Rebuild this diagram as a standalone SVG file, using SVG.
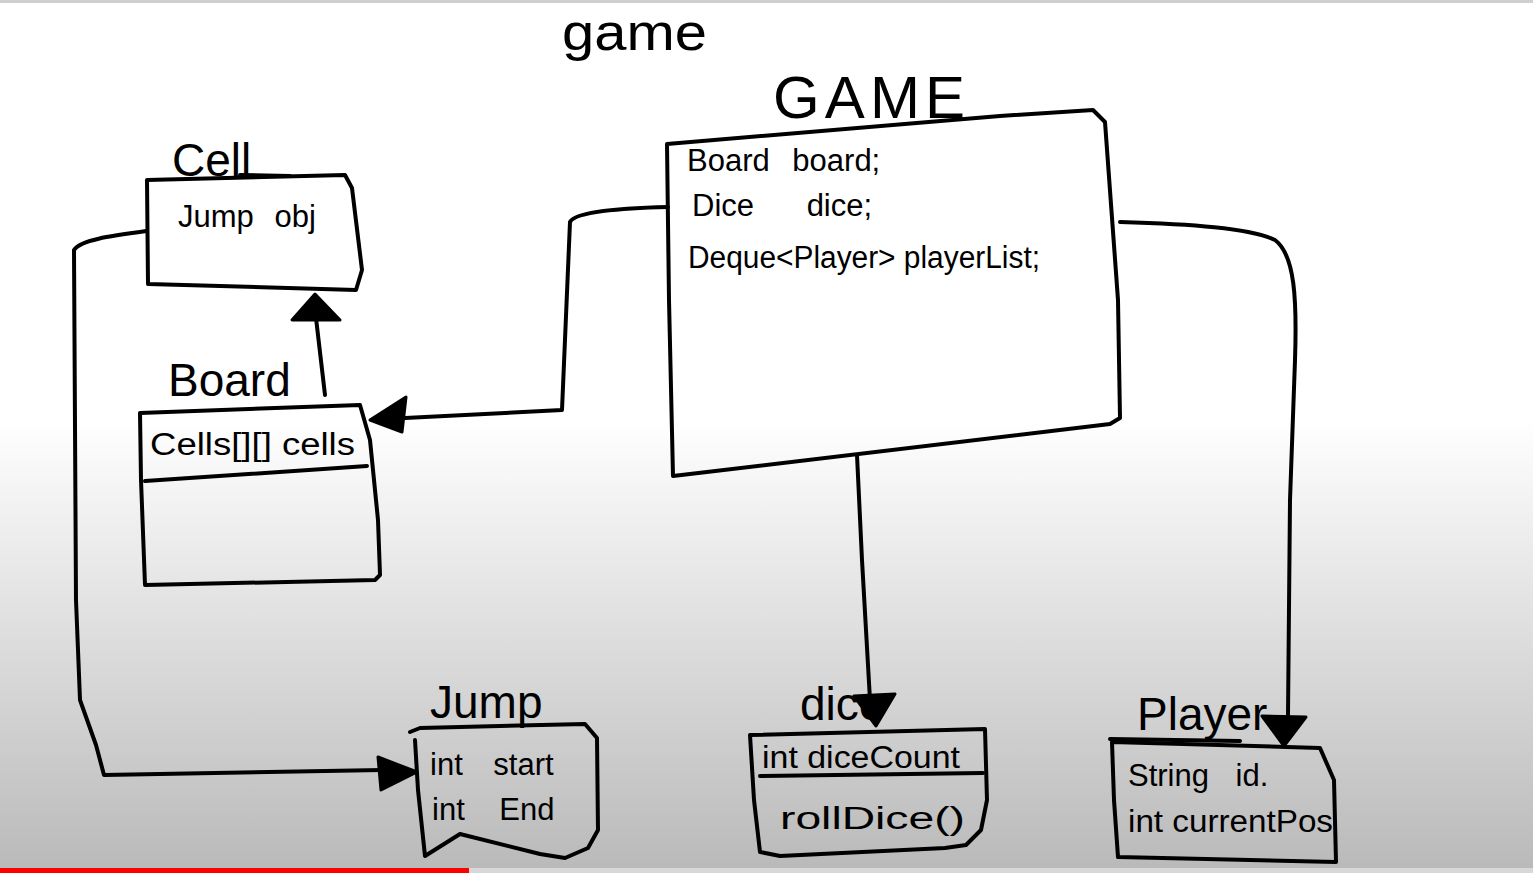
<svg xmlns="http://www.w3.org/2000/svg" width="1533" height="873" viewBox="0 0 1533 873">
<defs>
<linearGradient id="bg" x1="0" y1="0" x2="0" y2="873" gradientUnits="userSpaceOnUse">
<stop offset="0" stop-color="#ffffff"/>
<stop offset="0.48" stop-color="#ffffff"/>
<stop offset="1" stop-color="#b9b9b9"/>
</linearGradient>
</defs>
<style>
.ink{fill:none;stroke:#000;stroke-width:4;stroke-linecap:round;stroke-linejoin:round}
.head{fill:#000;stroke:#000;stroke-width:3;stroke-linejoin:round}
.t{font-family:"Liberation Sans",Arial,sans-serif;fill:#000}
.title{font-size:46px}
.body{font-size:31px}
</style>
<rect x="0" y="0" width="1533" height="873" fill="url(#bg)"/>
<rect x="0" y="0" width="1533" height="3" fill="#cfcfcf"/>
<rect x="0" y="868" width="1533" height="5" fill="#d8d8d8"/>
<rect x="0" y="868" width="469" height="5" fill="#ff0000"/>

<g id="title-game">
<text class="t" x="562" y="50" font-size="52" textLength="145" lengthAdjust="spacingAndGlyphs">game</text>
</g>

<g id="connectors">
<path class="ink" d="M668,207 C620,208 575,212 570,222 L562,410 L405,418"/>
<path class="head" d="M370,420 L406,397 L402,432 z"/>
<path class="ink" d="M325,395 L316,318"/>
<path class="head" d="M315,294 L292,320 L340,320 z"/>
<path class="ink" d="M147,231 C110,236 80,240 74,250 L76,600 L80,700 L96,745 L104,775 L382,770"/>
<path class="head" d="M417,772 L378,757 L381,790 z"/>
<path class="ink" d="M857,455 L862,560 L870,700"/>
<path class="head" d="M876,726 L854,696 L895,694 z"/>
<path class="ink" d="M1120,222 C1190,224 1250,228 1275,240 C1295,255 1297,300 1295,360 L1290,500 L1288,715"/>
<path class="head" d="M1284,746 L1262,716 L1306,717 z"/>
</g>

<g id="game">
<text class="t" x="773" y="118" font-size="60" textLength="192" lengthAdjust="spacing">GAME</text>
<path class="ink" d="M667,144 L1000,116 L1093,110 L1105,122 L1118,300 L1120,418 L1110,424 L673,476 L669,300 z"/>
<text class="t body" x="687" y="171" font-size="33" word-spacing="14">Board board;</text>
<text class="t body" x="692" y="216" font-size="33" word-spacing="44">Dice dice;</text>
<text class="t body" x="688" y="268" font-size="33" textLength="352" lengthAdjust="spacingAndGlyphs">Deque&lt;Player&gt; playerList;</text>
</g>

<g id="cell">
<text class="t title" x="172" y="176">Cell</text>
<path class="ink" d="M240,175 L290,176"/>
<path class="ink" d="M147,180 L345,175 L352,188 L362,270 L356,290 L148,284 z"/>
<text class="t body" x="178" y="227" word-spacing="12">Jump obj</text>
</g>

<g id="board">
<text class="t title" x="168" y="396">Board</text>
<path class="ink" d="M140,413 L360,405 L370,440 L378,520 L380,575 L375,580 L145,585 L141,480 z"/>
<path class="ink" d="M145,481 L367,466"/>
<text class="t body" x="150" y="455" textLength="205" lengthAdjust="spacingAndGlyphs">Cells[][] cells</text>
</g>

<g id="jump">
<text class="t title" x="430" y="718">Jump</text>
<path class="ink" d="M410,732 L420,728 L585,724 L597,738 L598,830 L588,848 L565,858 L540,854 L460,834 L425,856 L418,790 L415,740"/>
<text class="t body" x="430" y="775" word-spacing="22">int start</text>
<text class="t body" x="432" y="820" word-spacing="26">int End</text>
</g>

<g id="dice">
<text class="t title" x="800" y="720">dice</text>
<path class="ink" d="M750,735 L985,729 L987,800 L981,830 L966,845 L945,848 L780,856 L760,852 L754,800 z"/>
<path class="ink" d="M760,776 L983,773"/>
<text class="t body" x="762" y="768" font-size="28" textLength="198" lengthAdjust="spacingAndGlyphs">int diceCount</text>
<text class="t body" x="780" y="829" font-size="36" textLength="185" lengthAdjust="spacingAndGlyphs">rollDice()</text>
</g>

<g id="player">
<text class="t title" x="1137" y="730">Player</text>
<path class="ink" d="M1110,739 L1240,741"/>
<path class="ink" d="M1112,742 L1320,748 L1334,780 L1336,862 L1118,857 L1114,800 z"/>
<text class="t body" x="1128" y="786" word-spacing="18">String id.</text>
<text class="t body" x="1128" y="832" textLength="205" lengthAdjust="spacingAndGlyphs">int currentPos</text>
</g>
</svg>
